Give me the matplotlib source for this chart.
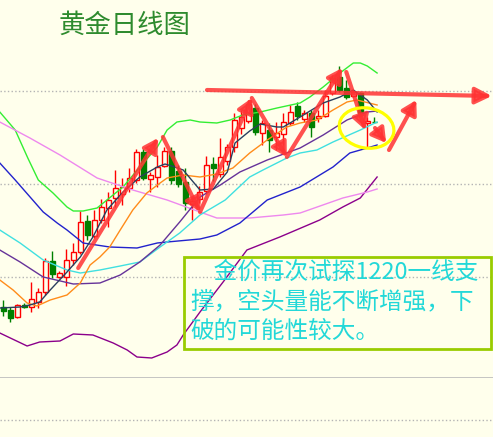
import numpy as np
import matplotlib
matplotlib.use('Agg')
import matplotlib.pyplot as plt
from matplotlib.patches import Rectangle, Ellipse, FancyArrowPatch
from matplotlib.transforms import ScaledTranslation

plt.rcParams['font.family'] = ['Noto Sans CJK SC', 'DejaVu Sans']

# daily candles (price units)
opens = [1192, 1190.5, 1187, 1193, 1192, 1194.5, 1199.5, 1215, 1207, 1207,
         1215.5, 1219.5, 1235, 1227.5, 1235.5, 1241.5, 1246.5, 1248.5, 1251.5, 1255.5,
         1269.5, 1256, 1257, 1262.5, 1270, 1260, 1254.5, 1243.5, 1246, 1250,
         1263.5, 1258.5, 1265, 1272, 1281.5, 1285, 1291.5, 1279, 1280.5, 1277,
         1278.5, 1284, 1292.5, 1286, 1289, 1286.5, 1287.5, 1299, 1307, 1301.5,
         1297.5, 1299, 1284, 1284.5]
closes = [1190, 1186.5, 1193, 1192, 1196, 1199.5, 1215, 1208.5, 1209, 1215.5,
          1219.5, 1234.5, 1228, 1235.5, 1242, 1245.5, 1251.5, 1252, 1256.5, 1269.5,
          1256.5, 1258, 1262, 1270, 1255.5, 1253.5, 1244, 1245, 1249.5, 1263,
          1261.5, 1267, 1272, 1285.5, 1287, 1293.5, 1279.5, 1284, 1275.5, 1279,
          1284.5, 1289.5, 1287.5, 1289, 1282, 1287.5, 1297.5, 1306.5, 1300.5, 1297,
          1299.5, 1289, 1285, 1284.3]
highs = [1195.5, 1192, 1193.5, 1194, 1204.5, 1201.5, 1216.5, 1220, 1210, 1221,
         1224, 1240, 1238, 1240.5, 1246, 1249.5, 1260.5, 1256.5, 1261.5, 1271,
         1271, 1259.5, 1268, 1272, 1272, 1263, 1261.5, 1247, 1252.5, 1267.5,
         1267, 1276.5, 1273.5, 1289, 1290.5, 1295.5, 1293.5, 1285.5, 1284, 1284.5,
         1289, 1293, 1294.5, 1290.5, 1290.5, 1290.5, 1300.5, 1308, 1312.5, 1305.5,
         1300.5, 1299.5, 1287, 1287]
lows = [1187.5, 1184.5, 1186.5, 1191.5, 1189.5, 1191.5, 1198, 1206.5, 1206.5, 1202.5,
        1213, 1218.5, 1225.5, 1226.5, 1234, 1232, 1242, 1243, 1249.5, 1254,
        1255.5, 1249.5, 1252, 1262, 1253.5, 1252, 1240.5, 1235.5, 1244, 1248.5,
        1255, 1257, 1263, 1269.5, 1278.5, 1284, 1278, 1273, 1269.5, 1270.5,
        1273, 1283, 1285.5, 1284.5, 1277, 1284.5, 1287, 1298, 1299.5, 1296,
        1297, 1288.5, 1271.5, 1284]

# indicator lines: (bar position, price)
upper_x = [-0.5, 1.7, 3.5, 5.0, 7.1, 9.1, 10.0, 11.4, 13.4, 14.8, 17.1, 19.5, 22.0, 23.4, 24.8,
           26.7, 28.1, 30.5, 32.4, 34.2, 36.7, 39.1, 42.4, 43.8, 45.7, 48.1, 50.0, 51.0, 52.0, 53.4]
upper_y = [1289.5, 1280.5, 1266.5, 1255.5, 1249, 1242, 1240, 1240, 1241.5, 1245.5, 1252, 1262, 1272,
           1280.5, 1284.5, 1285.5, 1284.5, 1284, 1285.5, 1288, 1289.5, 1291.5, 1294, 1297, 1302,
           1309, 1314, 1314, 1312.5, 1309]
ma5_x = [-0.5, 2.4, 3.8, 5.2, 6.7, 9.1, 11.0, 12.8, 14.8, 17.1, 19.5, 22.0, 23.1, 24.5, 25.7,
         28.1, 30.0, 32.0, 33.1, 35.2, 36.7, 39.1, 40.0, 42.4, 45.7, 48.1, 50.0, 52.0, 53.4]
ma5_y = [1191.5, 1192, 1193, 1194.5, 1200.5, 1209.5, 1217, 1227, 1240.5, 1249.5, 1257, 1262,
         1263.5, 1262, 1260.5, 1250.5, 1251, 1259.5, 1274, 1280, 1283.5, 1282, 1282, 1287, 1294,
         1297, 1300.5, 1295.5, 1289.5]
ma10_x = [-0.5, 1.4, 3.4, 4.8, 6.7, 9.1, 11.0, 12.4, 13.8, 15.2, 16.7, 18.5, 20.5, 22.4, 23.4,
          25.7, 28.1, 30.5, 32.8, 35.2, 37.7, 40.5, 42.4, 44.8, 47.1, 49.1, 50.5, 53.4]
ma10_y = [1205.5, 1200.5, 1194, 1192.5, 1195.5, 1198, 1204, 1213, 1217, 1222, 1230.5, 1240.5,
          1249, 1254, 1256.5, 1258, 1257, 1258.5, 1261.5, 1269, 1275.5, 1282, 1284, 1285.5,
          1290.5, 1294.5, 1295.5, 1293]
mid_x = [-0.5, 2.4, 5.7, 10.0, 13.8, 16.7, 19.5, 22.4, 25.2, 28.1, 31.0, 33.8, 37.7, 42.4, 45.7,
         49.1, 52.0, 53.4]
mid_y = [1220.5, 1214.5, 1207, 1203.5, 1204, 1208, 1214.5, 1223, 1234.5, 1247, 1253, 1259.5,
         1265.5, 1271.5, 1278, 1285.5, 1289.5, 1290]
ma30_x = [-0.5, 2.4, 5.7, 9.1, 11.0, 13.8, 16.7, 19.5, 22.4, 25.2, 28.1, 31.7, 35.2, 37.1, 40.5,
          42.4, 44.8, 47.1, 51.0, 53.4]
ma30_y = [1230.5, 1224, 1215.5, 1210.5, 1209, 1210.5, 1212.5, 1214.5, 1222, 1229, 1238, 1245.5,
          1257, 1260.5, 1266.5, 1269, 1270.5, 1274.5, 1280.5, 1284.5]
ma60_x = [-0.5, 1.7, 4.2, 5.7, 7.7, 9.1, 11.4, 15.2, 19.1, 22.0, 23.4, 28.1, 30.5, 33.8, 37.7,
          42.4, 47.1, 49.5, 52.0, 53.4]
ma60_y = [1264, 1255.5, 1245.5, 1239.5, 1234, 1230.5, 1224, 1222, 1221.5, 1224, 1224.5, 1226,
          1228, 1234, 1245.5, 1252, 1262, 1269, 1271.5, 1273]
ma120_x = [-0.5, 3.8, 8.1, 13.4, 18.5, 23.4, 28.1, 30.5, 35.2, 40.0, 42.4, 48.5, 52.0, 53.4]
ma120_y = [1284.5, 1276.5, 1268, 1256.5, 1250.5, 1245.5, 1239.5, 1236.5, 1236.5, 1238, 1239,
           1246.5, 1249.5, 1251]
lower_x = [-0.5, 3.4, 5.2, 8.1, 10.0, 12.8, 15.7, 17.7, 19.1, 21.2, 23.4, 24.8, 25.7, 28.1, 31.4,
           34.8, 39.5, 45.2, 48.5, 51.0, 53.4]
lower_y = [1179, 1172.5, 1174.5, 1175, 1178.5, 1178, 1174, 1170.5, 1167, 1166.5, 1169.5, 1173,
           1178, 1189.5, 1204.5, 1220.5, 1227, 1235.5, 1242, 1246.5, 1257]

# hand-drawn red arrows: (start bar, start price, end bar, end price)
arrows = [(10.7, 1211.5, 22.1, 1276.5),
          (22.8, 1277.0, 28.1, 1239.5),
          (28.1, 1239.5, 35.5, 1296.5),
          (35.5, 1296.5, 40.5, 1267.0),
          (40.5, 1267.0, 48.4, 1311.5),
          (49.0, 1309.5, 51.7, 1280.5),
          (53.1, 1281.5, 54.7, 1274.0),
          (55.1, 1270.5, 59.0, 1295.5)]
resistance = (29.1, 1300.5, 69.8, 1297.5)
circle_at = (51.9, 1281.5)

grid_levels = [1207, 1253.5, 1300]

title = '黄金日线图'
note_lines = ['\u3000金价再次试探1220一线支',
              '撑，空头量能不断增强，下',
              '破的可能性较大。']

bg = '#FFFFEC'
fig = plt.figure(figsize=(4.93, 4.37), dpi=100, facecolor=bg)
ax = fig.add_axes([0, 59 / 437, 1, 378 / 437], facecolor=bg)
ax2 = fig.add_axes([0, 0, 1, 59 / 437], facecolor=bg)

x = np.arange(len(opens))
o = np.array(opens)
c = np.array(closes)
h = np.array(highs)
l = np.array(lows)
up = c >= o
top = np.maximum(o, c)
bot = np.minimum(o, c)

# wicks
ax.vlines(x[up], top[up], h[up], color='#FF0000', lw=1, zorder=2)
ax.vlines(x[up], l[up], bot[up], color='#FF0000', lw=1, zorder=2)
ax.vlines(x[~up], l[~up], h[~up], color='#008000', lw=1, zorder=2)
# bodies
ax.bar(x[up], np.maximum(top[up] - bot[up], 0.4), bottom=bot[up], width=0.7,
       facecolor=bg, edgecolor='#FF0000', lw=1, zorder=2)
ax.bar(x[~up], np.maximum(top[~up] - bot[~up], 0.4), bottom=bot[~up], width=0.7,
       facecolor='#008000', edgecolor='#008000', lw=1, zorder=2)

ax.plot(upper_x, upper_y, color='#33EE33', lw=1, zorder=3)
ax.plot(lower_x, lower_y, color='#8B008B', lw=1, zorder=3)
ax.plot(ma120_x, ma120_y, color='#EE88EE', lw=1, zorder=3)
ax.plot(ma60_x, ma60_y, color='#2222CC', lw=1, zorder=3)
ax.plot(ma30_x, ma30_y, color='#40E0E0', lw=1, zorder=3)
ax.plot(mid_x, mid_y, color='#663399', lw=1, zorder=3)
ax.plot(ma10_x, ma10_y, color='#FF8C1A', lw=1, zorder=3)
ax.plot(ma5_x, ma5_y, color='#2A3F5F', lw=1, zorder=3)

for x0, y0, x1, y1 in arrows:
    ax.add_patch(FancyArrowPatch((x0, y0), (x1, y1), arrowstyle='-|>,head_length=0.6,head_width=0.35',
                                 mutation_scale=14, lw=3, color='#FF3333', alpha=0.85,
                                 shrinkA=0, shrinkB=0, zorder=5))
x0, y0, x1, y1 = resistance
ax.add_patch(FancyArrowPatch((x0, y0), (x1, y1), arrowstyle='-|>,head_length=0.7,head_width=0.35',
                             mutation_scale=14, lw=3, color='#FF3333', alpha=0.85,
                             shrinkA=0, shrinkB=0, zorder=5))

ax.set_xlim(-3.3 / 7, (493 - 3.3) / 7)
ax.set_ylim(1156.5, 1345.5)
ax.set_yticks(grid_levels)
ax.set_xticks([])
ax.grid(axis='y', linestyle=':', color='#B4B4B4', lw=1)
ax.tick_params(left=False, labelleft=False)
for s in ['top', 'left', 'right']:
    ax.spines[s].set_visible(False)
ax.spines['bottom'].set_color('#BBBBBB')
ax.spines['bottom'].set_linewidth(1.2)

ax2.set_xlim(0, 1)
ax2.set_ylim(0, 1)
ax2.axhline(17 / 59, color='#B4B4B4', ls=':', lw=1)
ax2.set_xticks([])
ax2.set_yticks([])
for s in ax2.spines.values():
    s.set_visible(False)

# yellow circle around the latest bars
trans = fig.dpi_scale_trans + ScaledTranslation(circle_at[0], circle_at[1], ax.transData)
fig.add_artist(Ellipse((0, 0), 0.55, 0.40, angle=-10, transform=trans, fill=False,
                       ec='#FFFF00', lw=2.3, zorder=6))

fig.text(59 / 493, 1 - 25 / 437, title, fontsize=19, color='#2E8B2E', va='center', ha='left',
         fontweight='light')

fig.add_artist(Rectangle((184 / 493, 88 / 437), 307 / 493, 92 / 437, transform=fig.transFigure,
                         fill=False, ec='#99CC00', lw=2, zorder=7))
for k, line in enumerate(note_lines):
    fig.text(190 / 493, 1 - (272 + 29.5 * k) / 437, line, fontsize=17, color='#22D8D8',
             va='center', ha='left', fontweight='light', zorder=8)

fig.savefig('out.png', dpi=100, facecolor=bg)
